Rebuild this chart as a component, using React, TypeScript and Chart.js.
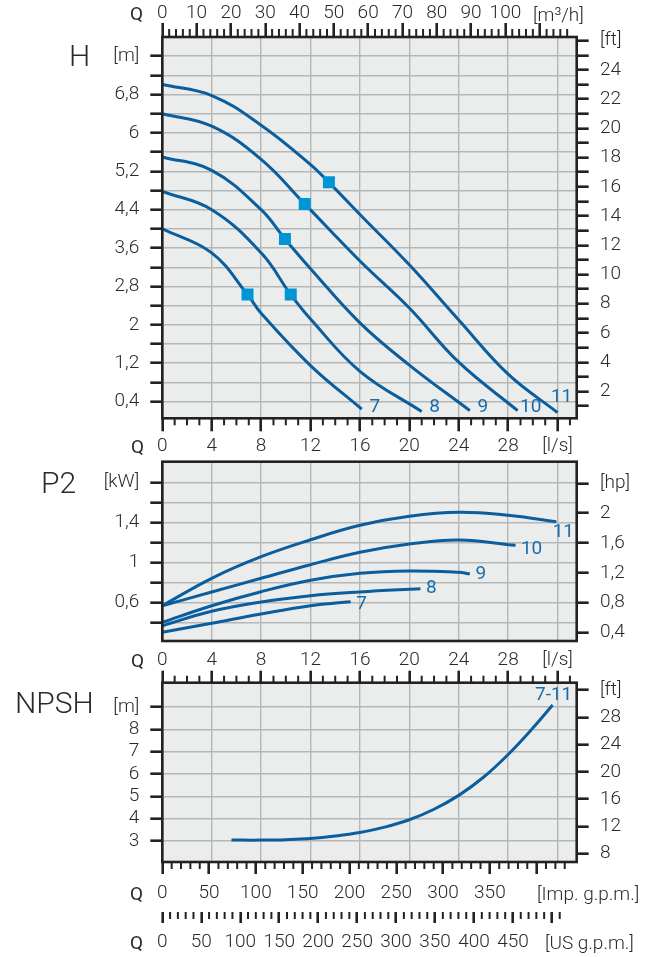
import React, { useEffect, useRef } from 'react';
import { Chart, registerables } from 'chart.js';

Chart.register(...registerables);

// ---------------- data (flow Q in l/s) ----------------
// Head curves H [m]
const H7_Q = [0, 4, 6.9, 8, 12, 16.15];
const H7_H = [4.0, 3.5, 2.63, 2.24, 1.15, 0.24];
const H8_Q = [0, 4, 8, 10.4, 12, 16, 21.0];
const H8_H = [4.78, 4.4, 3.5, 2.63, 2.12, 1.03, 0.19];
const H9_Q = [0, 4, 8, 9.93, 12, 16, 20, 24.9];
const H9_H = [5.5, 5.22, 4.4, 3.79, 3.17, 2.04, 1.16, 0.21];
const H10_Q = [0, 4, 8, 11.53, 16, 20, 24, 28.77];
const H10_H = [6.4, 6.14, 5.45, 4.52, 3.33, 2.35, 1.22, 0.21];
const H11_Q = [0, 4, 8, 12, 13.49, 16, 20, 24, 28, 32];
const H11_H = [7.01, 6.78, 6.16, 5.34, 4.97, 4.3, 3.25, 2.1, 0.97, 0.17];
// best efficiency markers (on curves 7, 8, 9, 10, 11)
const BEP_Q = [6.9, 10.4, 9.93, 11.53, 13.49];
const BEP_H = [2.63, 2.63, 3.79, 4.52, 4.97];

// Power curves P2 [kW]
const P7_Q = [0, 4, 8, 12, 15.25];
const P7_P = [0.3, 0.39, 0.483, 0.566, 0.606];
const P8_Q = [0, 4, 8, 12, 16, 20.9];
const P8_P = [0.366, 0.51, 0.603, 0.666, 0.703, 0.736];
const P9_Q = [0, 4, 8, 12, 16, 20, 24, 24.9];
const P9_P = [0.4, 0.566, 0.706, 0.82, 0.89, 0.913, 0.9, 0.885];
const P10_Q = [0, 4, 8, 12, 16, 20, 24, 28.6];
const P10_P = [0.566, 0.703, 0.84, 0.976, 1.1, 1.183, 1.223, 1.17];
const P11_Q = [0, 4, 8, 12, 16, 20, 24, 28, 31.9];
const P11_P = [0.566, 0.84, 1.056, 1.225, 1.37, 1.46, 1.5, 1.47, 1.406];

// NPSH curve [m]
const N_Q = [5.6, 8, 10, 12, 14, 16, 18, 20, 22, 24, 26, 28, 30, 31.6];
const N_M = [3.04, 3.04, 3.06, 3.11, 3.22, 3.38, 3.62, 3.95, 4.42, 5.04, 5.85, 6.87, 8.05, 9.08];

const H_NAMES = ['7', '8', '9', '10', '11'];
const P_NAMES = ['7', '8', '9', '10', '11'];
const N_NAME = '7-11';

// tick values / labels
const LS_TICKS = [0, 4, 8, 12, 16, 20, 24, 28, 32];
const LS_LABELS = ['0', '4', '8', '12', '16', '20', '24', '28', '[l/s]'];
const M3H_TICKS = [0, 10, 20, 30, 40, 50, 60, 70, 80, 90, 100, 110];
const M3H_LABELS = ['0', '10', '20', '30', '40', '50', '60', '70', '80', '90', '100', ''];
const H_M_TICKS = [0.4, 0.8, 1.2, 1.6, 2.0, 2.4, 2.8, 3.2, 3.6, 4.0, 4.4, 4.8, 5.2, 5.6, 6.0, 6.4, 6.8, 7.2, 7.6];
const H_M_LABELS = ['0,4', '', '1,2', '', '2', '', '2,8', '', '3,6', '', '4,4', '', '5,2', '', '6', '', '6,8', '', '[m]'];
const H_FT_TICKS = [1, 2, 3, 4, 5, 6, 7, 8, 9, 10, 11, 12, 13, 14, 15, 16, 17, 18, 19, 20, 21, 22, 23, 24, 25, 26];
const H_FT_LABELS = ['', '2', '', '4', '', '6', '', '8', '', '10', '', '12', '', '14', '', '16', '', '18', '', '20', '', '22', '', '24', '', '[ft]'];
const P_KW_TICKS = [0.4, 0.6, 0.8, 1.0, 1.2, 1.4, 1.6, 1.8];
const P_KW_LABELS = ['', '0,6', '', '1', '', '1,4', '', '[kW]'];
const P_HP_TICKS = [0.4, 0.8, 1.2, 1.6, 2.0, 2.4];
const P_HP_LABELS = ['0,4', '0,8', '1,2', '1,6', '2', '[hp]'];
const N_M_TICKS = [3, 4, 5, 6, 7, 8, 9];
const N_M_LABELS = ['3', '4', '5', '6', '7', '8', '[m]'];
const N_FT_TICKS = [8, 12, 16, 20, 24, 28, 32];
const N_FT_LABELS = ['8', '12', '16', '20', '24', '28', '[ft]'];
const IMP_TICKS = [0, 50, 100, 150, 200, 250, 300, 350, 400];
const IMP_LABELS = ['0', '50', '100', '150', '200', '250', '300', '350', ''];
const US_TICKS = [0, 50, 100, 150, 200, 250, 300, 350, 400, 450, 500];
const US_LABELS = ['0', '50', '100', '150', '200', '250', '300', '350', '400', '450', ''];

// unit conversions
const M3H_PER_LS = 3.6;
const IMP_PER_LS = 13.198;
const US_PER_LS = 15.8503;
const M_PER_FT = 0.3048;
const KW_PER_HP = 0.7457;

// ranges
const Q_MAX = 33.55;
const H_MIN = 0.05, H_MAX = 8.0;
const P_MIN = 0.213, P_MAX = 2.006;
const N_MIN = 2.06, N_MAX = 10.08;

// ---------------- styles ----------------
const LINE = '#0b5e9e';
const MARK = '#0096d6';
const LABEL = '#186cae';
const GRID = '#b5b7b7';
const AXIS = '#222222';
const PLOT_BG = '#ebeded';
const TEXT = '#2a2a2a';
const FONT = 'Roboto, "Liberation Sans", Arial, sans-serif';
const TICK_FONT = { family: FONT, size: 19, weight: '300', lineHeight: 1 };

const H_LABEL_OFF = [[13, -2], [13, -4], [13, -3], [13, -3], [4, -15]];
const P_LABEL_OFF = [[11, 3], [11, 0], [11, 0], [16, 4], [7, 11]];
const N_LABEL_OFF = [1, -10];

const pts = (xs: number[], ys: number[]) => xs.map((x, i) => ({ x, y: ys[i] }));

function scaleCfg(o: any) {
  return {
    type: 'linear',
    axis: o.axis,
    position: o.position,
    min: o.min,
    max: o.max,
    weight: o.weight || 0,
    afterBuildTicks: (s: any) => {
      s.ticks = o.ticks.map((v: number) => ({ value: v }));
    },
    afterFit: (s: any) => {
      if (o.axis === 'x') s.height = o.size;
      else s.width = o.size;
      s.paddingLeft = 0;
      s.paddingRight = 0;
      s.paddingTop = 0;
      s.paddingBottom = 0;
    },
    border: { display: false },
    grid: {
      display: true,
      drawOnChartArea: !!o.grid,
      color: GRID,
      lineWidth: 1.4,
      drawTicks: o.tickLen > 0,
      tickLength: o.tickLen,
      tickWidth: 2.6,
      tickColor: AXIS,
    },
    ticks: {
      display: !!o.labels,
      autoSkip: false,
      maxRotation: 0,
      minRotation: 0,
      padding: o.pad || 0,
      font: TICK_FONT,
      color: TEXT,
      callback: (_v: any, i: number) => (o.labels ? o.labels[i] ?? '' : ''),
    },
  };
}

const framePlugin = {
  id: 'frame',
  beforeDraw(chart: any) {
    const { ctx, chartArea: a } = chart;
    ctx.save();
    ctx.fillStyle = PLOT_BG;
    ctx.fillRect(a.left, a.top, a.right - a.left, a.bottom - a.top);
    ctx.restore();
  },
  afterDatasetsDraw(chart: any) {
    const { ctx, chartArea: a } = chart;
    ctx.save();
    ctx.strokeStyle = AXIS;
    ctx.lineWidth = 2.6;
    ctx.strokeRect(a.left, a.top, a.right - a.left, a.bottom - a.top);
    ctx.restore();
  },
};

const minorTicksPlugin = {
  id: 'minorTicks',
  afterDraw(chart: any, _a: any, opts: any) {
    const ctx = chart.ctx;
    for (const m of opts.items || []) {
      const s = chart.scales[m.scale];
      ctx.save();
      ctx.strokeStyle = AXIS;
      ctx.lineWidth = 2;
      const n = Math.round(m.to / m.step);
      for (let k = 0; k <= n; k++) {
        if (k % m.every === 0) continue;
        const x = s.getPixelForValue(k * m.step);
        ctx.beginPath();
        if (s.position === 'top') {
          ctx.moveTo(x, s.bottom);
          ctx.lineTo(x, s.bottom - m.len);
        } else {
          ctx.moveTo(x, s.top);
          ctx.lineTo(x, s.top + m.len);
        }
        ctx.stroke();
      }
      ctx.restore();
    }
  },
};

const curveLabelPlugin = {
  id: 'curveLabels',
  afterDatasetsDraw(chart: any, _a: any, opts: any) {
    const { ctx } = chart;
    const xs = chart.scales.x;
    const ys = chart.scales.y;
    ctx.save();
    ctx.fillStyle = LABEL;
    ctx.font = `400 19px ${FONT}`;
    ctx.textAlign = 'center';
    ctx.textBaseline = 'middle';
    for (const l of opts.items || []) {
      const d = chart.data.datasets[l.ds].data;
      const p = d[d.length - 1];
      ctx.fillText(l.text, xs.getPixelForValue(p.x) + l.dx, ys.getPixelForValue(p.y) + l.dy);
    }
    ctx.restore();
  },
};

function curveDs(data: any[]) {
  return {
    data,
    borderColor: LINE,
    borderWidth: 3,
    pointRadius: 0,
    tension: 0.4,
    fill: false,
    xAxisID: 'x',
    yAxisID: 'y',
    order: 2,
  };
}

const baseOptions = {
  responsive: false,
  maintainAspectRatio: false,
  animation: false,
  devicePixelRatio: 1,
  events: [],
  layout: { padding: 0 },
};

function makeH(canvas: HTMLCanvasElement) {
  const curves = [pts(H7_Q, H7_H), pts(H8_Q, H8_H), pts(H9_Q, H9_H), pts(H10_Q, H10_H), pts(H11_Q, H11_H)];
  return new Chart(canvas, {
    type: 'line',
    data: {
      datasets: [
        {
          data: pts(BEP_Q, BEP_H),
          showLine: false,
          pointStyle: 'rect',
          pointRadius: 8.5,
          pointBackgroundColor: MARK,
          pointBorderWidth: 0,
          xAxisID: 'x',
          yAxisID: 'y',
          order: 1,
        },
        ...curves.map(curveDs),
      ],
    } as any,
    options: {
      ...baseOptions,
      plugins: {
        legend: { display: false },
        tooltip: { enabled: false },
        minorTicks: {
          items: [
            { scale: 'x', step: 1, to: 33, every: 4, len: 7 },
            { scale: 'x2', step: 2, to: 118, every: 5, len: 8 },
          ],
        },
        curveLabels: {
          items: H_NAMES.map((t, i) => ({ ds: i + 1, text: t, dx: H_LABEL_OFF[i][0], dy: H_LABEL_OFF[i][1] })),
        },
      },
      scales: {
        x: scaleCfg({ axis: 'x', position: 'bottom', min: 0, max: Q_MAX, ticks: LS_TICKS, labels: LS_LABELS, size: 41.7, tickLen: 13, pad: 5.5, grid: true }),
        x2: scaleCfg({ axis: 'x', position: 'top', min: 0, max: Q_MAX * M3H_PER_LS, ticks: M3H_TICKS, labels: M3H_LABELS, size: 37, tickLen: 14, pad: 0 }),
        y: scaleCfg({ axis: 'y', position: 'left', min: H_MIN, max: H_MAX, ticks: H_M_TICKS, labels: H_M_LABELS, size: 162.3, tickLen: 12, pad: 11, grid: true }),
        y2: scaleCfg({ axis: 'y', position: 'right', min: H_MIN / M_PER_FT, max: H_MAX / M_PER_FT, ticks: H_FT_TICKS, labels: H_FT_LABELS, size: 80.3, tickLen: 12, pad: 11.3 }),
      },
    } as any,
    plugins: [framePlugin, minorTicksPlugin, curveLabelPlugin] as any,
  });
}

function makeP(canvas: HTMLCanvasElement) {
  const curves = [pts(P7_Q, P7_P), pts(P8_Q, P8_P), pts(P9_Q, P9_P), pts(P10_Q, P10_P), pts(P11_Q, P11_P)];
  return new Chart(canvas, {
    type: 'line',
    data: { datasets: curves.map(curveDs) } as any,
    options: {
      ...baseOptions,
      layout: { padding: { top: 6.7, left: 0, right: 0, bottom: 0 } },
      plugins: {
        legend: { display: false },
        tooltip: { enabled: false },
        curveLabels: {
          items: P_NAMES.map((t, i) => ({ ds: i, text: t, dx: P_LABEL_OFF[i][0], dy: P_LABEL_OFF[i][1] })),
        },
      },
      scales: {
        x: scaleCfg({ axis: 'x', position: 'bottom', min: 0, max: Q_MAX, ticks: LS_TICKS, size: 9, tickLen: 0, grid: true }),
        y: scaleCfg({ axis: 'y', position: 'left', min: P_MIN, max: P_MAX, ticks: P_KW_TICKS, labels: P_KW_LABELS, size: 162.3, tickLen: 12, pad: 11, grid: true }),
        y2: scaleCfg({ axis: 'y', position: 'right', min: P_MIN / KW_PER_HP, max: P_MAX / KW_PER_HP, ticks: P_HP_TICKS, labels: P_HP_LABELS, size: 80.3, tickLen: 12, pad: 11.3 }),
      },
    } as any,
    plugins: [framePlugin, curveLabelPlugin] as any,
  });
}

function makeN(canvas: HTMLCanvasElement) {
  return new Chart(canvas, {
    type: 'line',
    data: { datasets: [curveDs(pts(N_Q, N_M))] } as any,
    options: {
      ...baseOptions,
      plugins: {
        legend: { display: false },
        tooltip: { enabled: false },
        minorTicks: {
          items: [
            { scale: 'x', step: 1, to: 33, every: 4, len: 7 },
            { scale: 'x3', step: 10, to: 430, every: 5, len: 7 },
            { scale: 'x4', step: 10, to: 510, every: 5, len: 7 },
          ],
        },
        curveLabels: { items: [{ ds: 0, text: N_NAME, dx: N_LABEL_OFF[0], dy: N_LABEL_OFF[1] }] },
      },
      scales: {
        x: scaleCfg({ axis: 'x', position: 'top', min: 0, max: Q_MAX, ticks: LS_TICKS, labels: LS_LABELS, size: 37.7, tickLen: 12, pad: 1.2, grid: true }),
        x3: scaleCfg({ axis: 'x', position: 'bottom', weight: 0, min: 0, max: Q_MAX * IMP_PER_LS, ticks: IMP_TICKS, labels: IMP_LABELS, size: 50, tickLen: 12, pad: 9.5 }),
        x4: scaleCfg({ axis: 'x', position: 'bottom', weight: 1, min: 0, max: Q_MAX * US_PER_LS, ticks: US_TICKS, labels: US_LABELS, size: 45, tickLen: 11, pad: 9.5 }),
        y: scaleCfg({ axis: 'y', position: 'left', min: N_MIN, max: N_MAX, ticks: N_M_TICKS, labels: N_M_LABELS, size: 162.3, tickLen: 12, pad: 11, grid: true }),
        y2: scaleCfg({ axis: 'y', position: 'right', min: N_MIN / M_PER_FT, max: N_MAX / M_PER_FT, ticks: N_FT_TICKS, labels: N_FT_LABELS, size: 80.3, tickLen: 12, pad: 11.3 }),
      },
    } as any,
    plugins: [framePlugin, minorTicksPlugin, curveLabelPlugin] as any,
  });
}

function Txt(p: { x: number; cy: number; size: number; weight?: number; children: React.ReactNode }) {
  return (
    <div
      style={{
        position: 'absolute',
        left: p.x,
        top: p.cy - 0.487 * p.size,
        fontSize: p.size,
        lineHeight: 1,
        fontWeight: p.weight ?? 300,
        whiteSpace: 'nowrap',
        fontFamily: FONT,
        color: TEXT,
      }}
    >
      {p.children}
    </div>
  );
}

export default function App() {
  const hRef = useRef<HTMLCanvasElement>(null);
  const pRef = useRef<HTMLCanvasElement>(null);
  const nRef = useRef<HTMLCanvasElement>(null);

  useEffect(() => {
    const charts = [makeH(hRef.current!), makeP(pRef.current!), makeN(nRef.current!)];
    return () => charts.forEach((c) => c.destroy());
  }, []);

  return (
    <div style={{ position: 'absolute', left: 0, top: 0, width: 657, height: 957, background: '#fff', overflow: 'hidden' }}>
      <canvas ref={hRef} width={657} height={460} style={{ position: 'absolute', left: 0, top: 0, width: 657, height: 460 }} />
      <canvas ref={pRef} width={657} height={195} style={{ position: 'absolute', left: 0, top: 455, width: 657, height: 195 }} />
      <canvas ref={nRef} width={657} height={312} style={{ position: 'absolute', left: 0, top: 645, width: 657, height: 312 }} />

      <Txt x={69} cy={55.8} size={30}>H</Txt>
      <Txt x={41} cy={482.9} size={30}>P2</Txt>
      <Txt x={15} cy={702.9} size={30}>NPSH</Txt>

      <Txt x={130} cy={13.7} size={19} weight={400}>Q</Txt>
      <Txt x={131} cy={446.5} size={19} weight={400}>Q</Txt>
      <Txt x={131} cy={660} size={19} weight={400}>Q</Txt>
      <Txt x={130} cy={893} size={19} weight={400}>Q</Txt>
      <Txt x={130} cy={942} size={19} weight={400}>Q</Txt>

      <Txt x={533} cy={14} size={19}>[m³/h]</Txt>
      <Txt x={537} cy={893} size={19}>[Imp. g.p.m.]</Txt>
      <Txt x={545} cy={942} size={19}>[US g.p.m.]</Txt>
    </div>
  );
}
